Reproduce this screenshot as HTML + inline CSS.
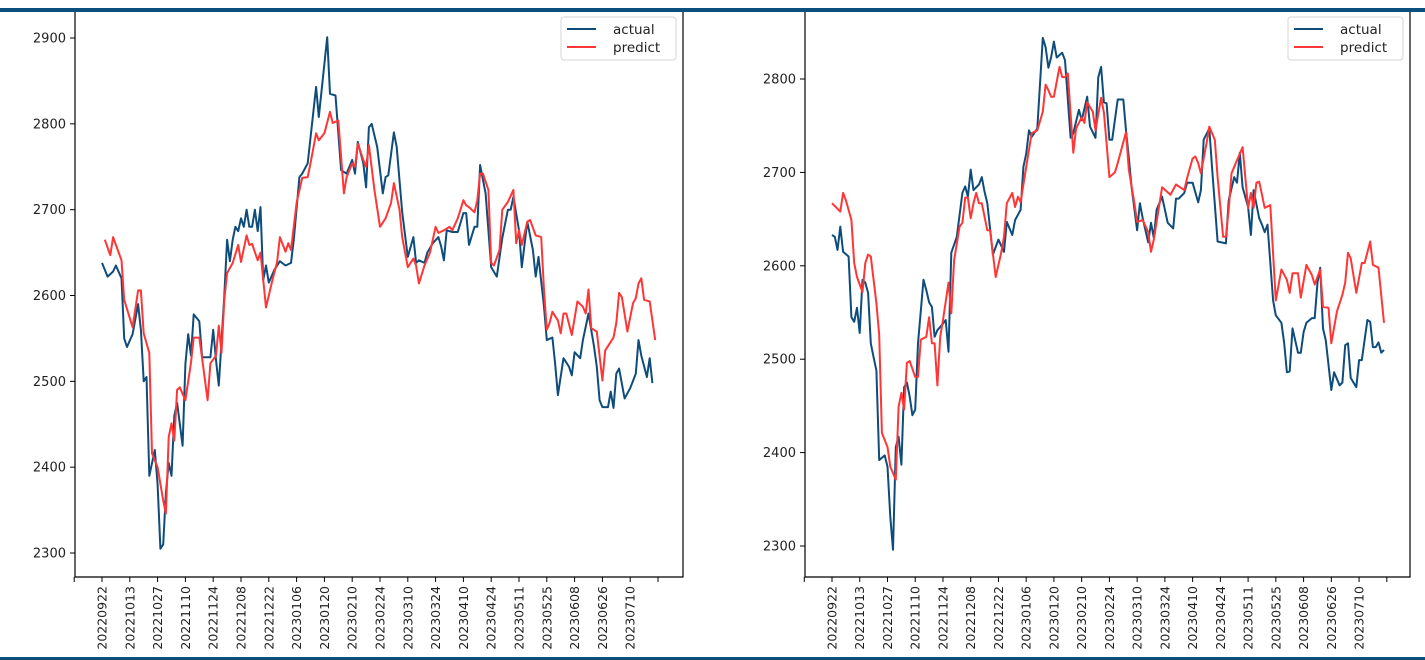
<!DOCTYPE html>
<html><head><meta charset="utf-8">
<style>
html,body{margin:0;padding:0;background:#fff;}
body{width:1425px;height:660px;overflow:hidden;position:relative;font-family:"DejaVu Sans","Liberation Sans",sans-serif;}
svg{position:absolute;left:0;top:0;}
</style></head>
<body>
<svg id="chart" width="1425" height="660" xmlns="http://www.w3.org/2000/svg"></svg>
<script>
const tickLabels = ["20220922","20221013","20221027","20221110","20221124","20221208","20221222","20230106","20230120","20230210","20230224","20230310","20230324","20230410","20230424","20230511","20230525","20230608","20230626","20230710"];
const leftYTicks = [2300,2400,2500,2600,2700,2800,2900];
const rightYTicks = [2300,2400,2500,2600,2700,2800];

const leftActualDays = [0,2,4,5,7,8,9,11,13,14,15,16,17,19,20,21,22,23,24,25,26,27,29,30,31,32,33,35,36,37,39,40,41,42,44,45,46,47,48,49,50,51,52,53,54,55,56,57,58,59,60,62,64,66,68,69,71,72,74,77,78,81,82,84,86,88,90,91,92,94,95,96,97,99,101,102,103,105,106,108,110,112,113,114,116,117,119,121,122,123,124,126,128,130,131,132,134,135,136,138,140,142,144,146,147,148,150,151,153,155,156,157,159,160,162,163,164,166,168,169,170,172,173,175,177,178,179,180,182,183,184,185,186,188,190,192,193,194,196,197,198];
const leftActualVals = [2638,2622,2628,2635,2620,2550,2540,2555,2590,2560,2500,2505,2390,2420,2380,2305,2310,2370,2405,2390,2460,2475,2425,2520,2555,2530,2578,2570,2528,2528,2528,2560,2525,2495,2600,2665,2640,2665,2680,2675,2690,2680,2700,2680,2680,2700,2675,2703,2618,2635,2615,2630,2640,2635,2638,2665,2738,2742,2754,2843,2808,2901,2835,2833,2746,2742,2758,2742,2779,2754,2726,2796,2800,2773,2719,2738,2740,2790,2773,2697,2645,2668,2638,2641,2638,2650,2661,2668,2657,2641,2676,2674,2674,2696,2696,2659,2680,2680,2752,2719,2633,2622,2667,2700,2700,2715,2676,2633,2686,2653,2622,2645,2587,2548,2551,2521,2484,2527,2517,2507,2534,2527,2548,2579,2540,2517,2478,2470,2470,2488,2469,2509,2515,2480,2492,2509,2548,2530,2505,2527,2498];
const leftPredDays = [1,3,4,5,7,8,11,13,14,15,17,18,20,22,23,24,25,26,27,28,30,32,33,35,36,38,39,41,42,43,44,45,47,49,50,52,53,54,56,57,59,61,63,64,66,67,68,70,72,74,75,77,78,80,82,83,85,87,88,90,91,92,94,95,96,98,100,102,104,105,107,108,110,112,113,114,116,118,120,121,123,125,126,128,130,131,132,134,135,136,137,139,140,141,143,144,146,148,149,150,151,153,154,155,156,158,159,160,161,162,164,165,166,167,169,171,173,174,175,176,178,180,181,184,185,186,187,189,191,192,193,194,195,197,199];
const leftPredVals = [2665,2647,2668,2659,2641,2595,2563,2606,2606,2556,2533,2416,2400,2361,2346,2435,2451,2431,2490,2493,2478,2522,2551,2551,2527,2478,2521,2530,2565,2533,2595,2626,2638,2659,2639,2670,2659,2660,2641,2650,2586,2614,2639,2668,2651,2661,2653,2708,2737,2738,2754,2789,2781,2789,2814,2801,2804,2719,2738,2754,2750,2777,2758,2750,2775,2723,2680,2690,2708,2731,2700,2668,2633,2643,2635,2614,2635,2650,2680,2673,2676,2680,2676,2690,2711,2705,2703,2697,2711,2742,2742,2723,2638,2635,2653,2700,2709,2723,2661,2676,2659,2686,2688,2679,2670,2668,2606,2560,2568,2581,2571,2556,2579,2579,2554,2593,2587,2579,2607,2562,2558,2501,2536,2551,2568,2603,2598,2558,2591,2597,2614,2620,2595,2593,2548];

const rightActualDays = [0,1,2,3,4,6,7,8,9,10,11,12,13,14,15,16,17,19,20,21,22,23,24,25,26,27,28,29,30,31,33,34,35,36,37,38,40,41,42,43,45,47,48,49,50,51,53,54,55,56,58,60,62,63,65,66,68,69,70,71,72,74,76,77,78,79,80,81,83,84,86,87,89,90,92,93,95,96,97,98,99,100,101,103,105,106,107,108,110,111,112,114,115,116,117,119,121,123,124,125,127,128,130,132,133,134,136,137,139,142,143,145,146,147,148,150,151,152,154,155,156,157,159,160,162,163,164,165,166,168,169,170,171,173,174,175,176,177,178,180,181,183,184,185,186,187,189,190,191,193,194,195,196,197,198,199];
const rightActualVals = [2633,2631,2617,2642,2615,2610,2545,2540,2555,2528,2585,2582,2571,2517,2502,2488,2392,2397,2385,2331,2296,2406,2417,2387,2470,2475,2460,2440,2446,2517,2585,2574,2561,2556,2524,2531,2538,2542,2508,2614,2631,2678,2685,2674,2703,2681,2687,2695,2679,2667,2612,2628,2615,2647,2633,2649,2660,2706,2720,2745,2738,2747,2844,2834,2812,2823,2840,2823,2828,2820,2737,2742,2767,2756,2781,2749,2737,2802,2813,2775,2774,2735,2735,2778,2778,2745,2716,2684,2638,2667,2651,2625,2646,2630,2660,2674,2646,2640,2672,2672,2678,2689,2689,2668,2681,2735,2747,2706,2626,2624,2670,2695,2689,2721,2684,2663,2633,2681,2651,2644,2636,2644,2563,2547,2539,2517,2486,2487,2533,2507,2507,2529,2539,2544,2544,2582,2598,2533,2520,2467,2486,2472,2475,2515,2517,2480,2470,2499,2499,2542,2540,2513,2513,2518,2507,2510];
const rightPredDays = [0,3,4,5,7,8,9,11,12,13,14,16,17,18,20,21,23,24,25,26,27,28,30,31,32,34,35,36,37,38,39,40,42,43,44,46,47,48,49,50,51,52,53,54,56,57,59,61,62,63,65,66,67,68,70,72,74,76,77,78,79,80,82,83,84,85,87,88,90,91,92,94,95,97,98,99,100,102,103,106,107,109,110,112,114,115,116,117,119,122,124,127,128,130,131,132,133,135,136,138,139,141,142,143,144,146,148,149,150,151,152,153,154,155,156,158,159,160,162,164,165,166,168,169,171,173,174,176,177,179,180,182,184,185,186,187,189,191,192,194,195,197,199];
const rightPredVals = [2667,2658,2678,2670,2649,2603,2588,2572,2603,2612,2610,2560,2526,2421,2406,2385,2371,2449,2464,2446,2496,2498,2481,2481,2521,2524,2545,2517,2517,2472,2524,2542,2582,2549,2606,2642,2646,2673,2673,2651,2667,2678,2667,2667,2638,2638,2588,2614,2631,2667,2678,2663,2674,2668,2706,2742,2745,2765,2794,2788,2781,2781,2813,2802,2802,2806,2721,2747,2759,2753,2775,2765,2745,2780,2764,2731,2695,2700,2710,2743,2703,2667,2647,2649,2636,2615,2628,2647,2684,2676,2687,2681,2694,2715,2717,2710,2699,2731,2749,2735,2695,2631,2631,2660,2699,2713,2727,2695,2662,2678,2662,2689,2690,2676,2662,2665,2613,2563,2596,2585,2571,2592,2592,2566,2601,2590,2580,2596,2556,2555,2517,2551,2569,2582,2614,2608,2571,2603,2603,2626,2601,2598,2539];

const NS = "http://www.w3.org/2000/svg";
const svg = document.getElementById('chart');
function mk(tag, attrs, parent){
  const e = document.createElementNS(NS, tag);
  for (const k in attrs) e.setAttribute(k, attrs[k]);
  (parent||svg).appendChild(e);
  return e;
}

// frame bars
let bt = mk('rect',{x:0,y:8,width:1425,height:4,fill:'#0b4f7d'});


let bb = mk('rect',{x:0,y:657,width:1425,height:3,fill:'#0b4f7d'});



function drawPanel(cfg){
  const g = mk('g',{});
  
  
  const xS = d => cfg.x0 + d * cfg.dx;
  const yS = v => cfg.yRef - (v - cfg.vRef) * cfg.ky;
  // spines
  const sp = mk('path',{d:`M${cfg.left} 12 V${cfg.bottom} H${cfg.right} V12`,fill:'none',stroke:'#000','stroke-width':1.2},g);
  
  
  // y ticks
  cfg.yTicks.forEach(v=>{
    const y = yS(v);
    const t = mk('line',{x1:cfg.left-5,x2:cfg.left,y1:y,y2:y,stroke:'#000','stroke-width':1},g);
    
    
    const tx = mk('text',{x:cfg.left-9,y:y+4.5,'text-anchor':'end','font-size':13,fill:'#222'},g);
    
    
    tx.textContent = v;
  });
  // x ticks (labelled every 10 days, plus unlabelled ends)
  for (let k=-1;k<=20;k++){
    const x = xS(k*10);
    const t = mk('line',{x1:x,x2:x,y1:cfg.bottom,y2:cfg.bottom+5,stroke:'#000','stroke-width':1},g);
    
    
    if (k>=0 && k<tickLabels.length){
      const tx = mk('text',{x:0,y:0,'text-anchor':'end','font-size':12.5,fill:'#222',transform:`translate(${x+4.5},${cfg.bottom+9}) rotate(-90)`},g);
      
      
      tx.textContent = tickLabels[k];
    }
  }
  function series(days, vals, color, name){
    let d = '';
    for (let i=0;i<vals.length;i++) d += (i?'L':'M') + xS(days[i]).toFixed(1) + ' ' + yS(vals[i]).toFixed(1);
    const p = mk('path',{d:d,fill:'none',stroke:color,'stroke-width':2,'stroke-linejoin':'round'},g);
    
    
  }
  series(cfg.aDays, cfg.aVals, '#0e4d7b', 'actual-line');
  series(cfg.pDays, cfg.pVals, '#ff3636', 'predict-line');
  // legend
  const lg = mk('g',{},g);
  
  
  const lx = cfg.right - 122;
  const box = mk('rect',{x:lx,y:17,width:115,height:43,rx:3,fill:'#fff',stroke:'#d6d6d6','stroke-width':1},lg);
  
  
  [['actual','#0e4d7b',29],['predict','#ff3636',47]].forEach(([lab,col,y])=>{
    const ln = mk('line',{x1:lx+6,x2:lx+35,y1:y,y2:y,stroke:col,'stroke-width':2},lg);
    
    
    const tx = mk('text',{x:lx+52,y:y+5,'font-size':13.5,fill:'#222'},lg);
    
    
    tx.textContent = lab;
  });
}

drawPanel({name:'left-chart',left:75,right:683,bottom:577,x0:102,dx:2.78,yRef:553,vRef:2300,ky:0.8583,yTicks:leftYTicks,
  aDays:leftActualDays,aVals:leftActualVals,pDays:leftPredDays,pVals:leftPredVals});
drawPanel({name:'right-chart',left:805,right:1410,bottom:577,x0:832,dx:2.774,yRef:546,vRef:2300,ky:0.934,yTicks:rightYTicks,
  aDays:rightActualDays,aVals:rightActualVals,pDays:rightPredDays,pVals:rightPredVals});
</script>
</body></html>
